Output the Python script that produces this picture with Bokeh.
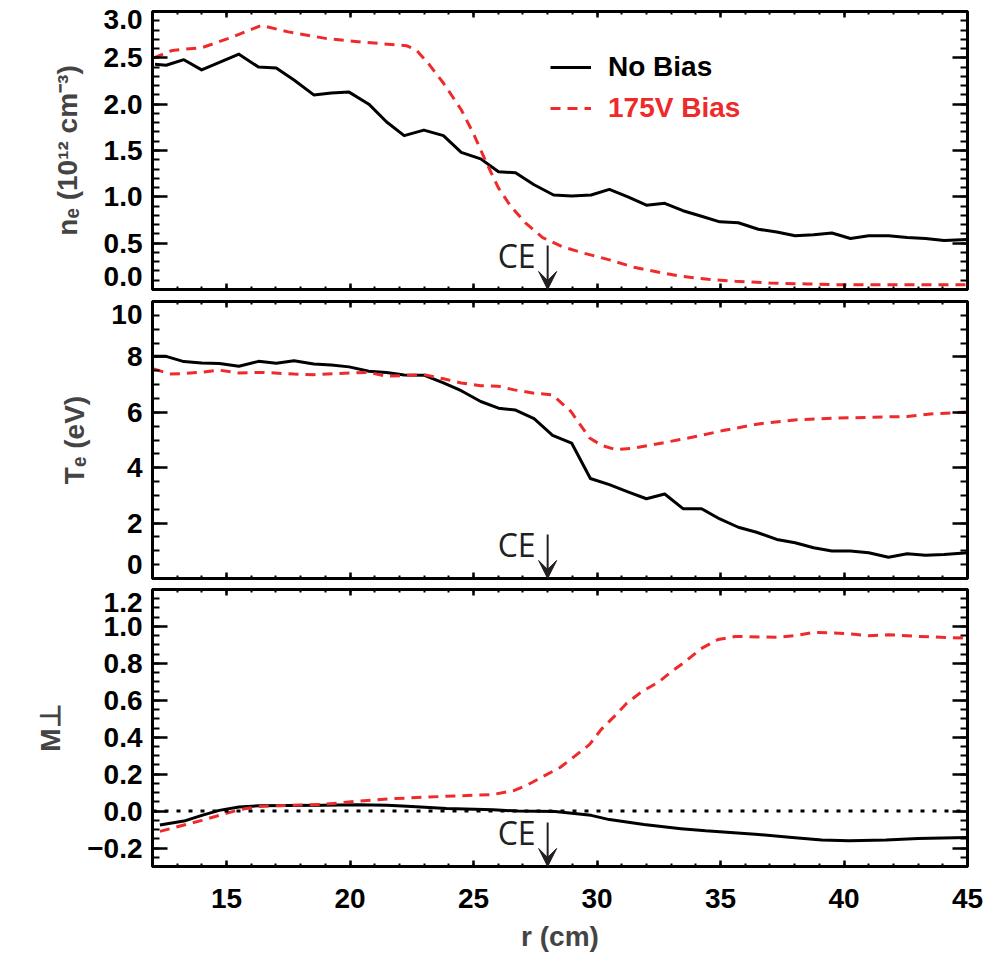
from bokeh.plotting import figure
from bokeh.models import (Range1d, LinearAxis, SingleIntervalTicker, Span, Label,
                          Arrow, VeeHead, Legend, LegendItem, CustomJSTickFormatter)
from bokeh.layouts import column
from bokeh.embed import file_html
from bokeh.resources import INLINE

# ---------------- data ----------------
ne_nobias_r = [12.1, 12.55, 13.27, 13.99, 14.71, 15.50, 16.29, 17.01, 17.73, 18.53, 19.24, 19.96,
               20.76, 21.47, 22.19, 22.99, 23.78, 24.50, 25.29, 26.01, 26.70, 27.45, 28.24, 28.97,
               29.76, 30.50, 31.25, 32.00, 32.74, 33.48, 34.23, 34.97, 35.72, 36.53, 37.28, 38.02,
               38.77, 39.51, 40.26, 41.00, 41.80, 42.56, 43.30, 44.05, 45.0]
ne_nobias = [2.43, 2.42, 2.48, 2.37, 2.45, 2.54, 2.40, 2.39, 2.26, 2.10, 2.12, 2.13,
             2.00, 1.81, 1.66, 1.72, 1.66, 1.48, 1.41, 1.27, 1.26, 1.13, 1.02, 1.01,
             1.02, 1.08, 1.00, 0.91, 0.93, 0.85, 0.79, 0.73, 0.72, 0.65, 0.62, 0.58,
             0.59, 0.61, 0.55, 0.58, 0.58, 0.56, 0.55, 0.53, 0.54]

ne_bias_r = [12.05, 12.8, 14.0, 15.2, 16.4, 17.5, 19.0, 20.5, 22.3, 22.7, 23.2, 23.8, 24.5, 25.0,
             25.5, 26.0, 26.5, 27.1, 27.8, 28.6, 29.5, 30.5, 31.5, 32.6, 33.5, 34.5, 35.6, 37.0,
             38.5, 40.0, 42.0, 43.5, 45.0]
ne_bias = [2.50, 2.58, 2.61, 2.72, 2.85, 2.78, 2.71, 2.67, 2.63, 2.58, 2.43, 2.22, 1.94, 1.68,
           1.38, 1.10, 0.90, 0.72, 0.56, 0.46, 0.39, 0.32, 0.24, 0.18, 0.14, 0.11, 0.09, 0.07,
           0.06, 0.05, 0.05, 0.05, 0.05]

te_nobias_r = [12.05, 12.55, 13.27, 13.99, 14.71, 15.50, 16.29, 17.01, 17.73, 18.53, 19.24, 19.96,
               20.76, 21.47, 22.19, 22.99, 23.78, 24.50, 25.29, 26.01, 26.70, 27.45, 28.20, 28.97,
               29.73, 30.50, 31.25, 32.00, 32.74, 33.48, 34.23, 34.97, 35.72, 36.46, 37.28, 38.02,
               38.77, 39.51, 40.26, 41.00, 41.80, 42.56, 43.30, 44.05, 45.0]
te_nobias = [8.02, 8.02, 7.83, 7.78, 7.76, 7.66, 7.84, 7.77, 7.86, 7.74, 7.71, 7.64,
             7.48, 7.44, 7.35, 7.34, 7.06, 6.78, 6.39, 6.15, 6.08, 5.77, 5.17, 4.89,
             3.61, 3.39, 3.13, 2.88, 3.05, 2.52, 2.52, 2.15, 1.85, 1.67, 1.41, 1.29,
             1.11, 0.99, 0.99, 0.93, 0.77, 0.89, 0.84, 0.87, 0.93]

te_bias_r = [12.05, 12.7, 13.27, 14.0, 14.71, 15.5, 16.5, 17.73, 18.53, 19.5, 20.76, 21.47, 22.19,
             22.99, 23.78, 24.5, 25.29, 26.0, 26.65, 27.45, 28.2, 28.94, 29.7, 30.2, 30.77, 31.5,
             32.26, 33.69, 35.1, 36.6, 38.1, 39.6, 41.1, 42.56, 43.5, 45.0]
te_bias = [7.57, 7.38, 7.40, 7.45, 7.52, 7.42, 7.44, 7.38, 7.36, 7.40, 7.44, 7.30, 7.33,
           7.36, 7.21, 7.06, 6.96, 6.94, 6.81, 6.69, 6.63, 6.03, 5.07, 4.80, 4.65, 4.71,
           4.83, 5.07, 5.34, 5.59, 5.73, 5.79, 5.82, 5.85, 5.94, 6.01]

m_nobias_r = [12.3, 13.27, 14.0, 14.7, 15.5, 16.3, 17.4, 18.9, 20.3, 21.5, 22.5, 23.9, 25.8, 26.8,
              28.3, 29.76, 30.5, 31.9, 33.4, 34.4, 36.4, 37.9, 39.1, 40.2, 41.7, 43.0, 45.0]
m_nobias = [-0.075, -0.054, -0.023, 0.004, 0.022, 0.029, 0.031, 0.032, 0.034, 0.032, 0.025, 0.014,
            0.007, 0.0, -0.002, -0.023, -0.046, -0.073, -0.095, -0.107, -0.125, -0.143, -0.157,
            -0.161, -0.157, -0.148, -0.143]

m_bias_r = [12.3, 14.0, 15.5, 16.3, 17.4, 18.9, 20.3, 21.7, 23.1, 24.5, 25.8, 26.65, 27.2, 27.86,
            28.5, 29.1, 29.7, 30.16, 30.7, 31.2, 31.8, 32.5, 33.0, 33.55, 34.2, 34.9, 35.6, 37.3,
            38.0, 38.8, 39.6, 40.3, 41.0, 41.8, 43.0, 45.0]
m_bias = [-0.11, -0.05, 0.007, 0.025, 0.031, 0.036, 0.054, 0.067, 0.076, 0.083, 0.090, 0.112,
          0.143, 0.191, 0.236, 0.298, 0.361, 0.441, 0.513, 0.584, 0.646, 0.70, 0.754, 0.807,
          0.879, 0.929, 0.946, 0.941, 0.95, 0.968, 0.964, 0.959, 0.95, 0.955, 0.946, 0.936]

series_labels = ["No Bias", "175V Bias"]
CE_R = 28.0
X_RANGE = (12, 45)
ne_range, ne_step = (0.0, 3.0), 0.5
te_range, te_step = (0.0, 10.0), 2.0
m_range, m_step = (-0.3, 1.2), 0.2

# ---------------- styling ----------------
FONT = "Liberation Sans"
FS = "28px"
RED = "#EE2A2A"
INK = "#231f20"
FRAME_W = 815


def style_axis(ax, show_labels, tick_in, minor_in):
    ax.axis_line_width = 3
    ax.axis_line_color = "black"
    ax.major_tick_in = tick_in
    ax.major_tick_out = 0
    ax.minor_tick_in = minor_in
    ax.minor_tick_out = 0
    ax.major_tick_line_width = 2.5
    ax.minor_tick_line_width = 2
    ax.major_tick_line_color = "black"
    ax.minor_tick_line_color = "black"
    if show_labels:
        ax.major_label_text_font = FONT
        ax.major_label_text_font_style = "bold"
        ax.major_label_text_font_size = FS
        ax.major_label_text_color = "black"
        ax.major_label_standoff = 10
    else:
        ax.major_label_text_color = None
        ax.major_label_text_alpha = 0
        ax.major_label_text_font_size = "1px"
        ax.major_label_standoff = 0


def make_panel(yr, ystep, yminor, decimals, frame_h, top, bottom, ylabel, xlabels):
    span = yr[1] - yr[0]
    pad = 1e-6 * span  # keeps a tick that sits exactly on the range end
    p = figure(x_range=Range1d(*X_RANGE), y_range=Range1d(yr[0] - pad, yr[1] + pad),
               frame_width=FRAME_W, frame_height=frame_h,
               min_border_left=152, min_border_right=41,
               min_border_top=top, min_border_bottom=bottom,
               output_backend="svg", toolbar_location=None)
    p.xgrid.visible = False
    p.ygrid.visible = False
    p.outline_line_color = "black"
    p.outline_line_width = 3
    p.background_fill_color = "white"
    p.border_fill_color = "white"

    xb = p.xaxis[0]
    xb.ticker = SingleIntervalTicker(interval=5, num_minor_ticks=5)
    style_axis(xb, xlabels, 6, 3)

    yl = p.yaxis[0]
    yl.ticker = SingleIntervalTicker(interval=ystep, num_minor_ticks=yminor)
    # labels at the ends of the range are nudged inward (as in the original)
    tol = 1e-3 * ystep
    code = ("const s = tick.toFixed(%d).replace('-', '\\u2212');\n"
            "if (Math.abs(tick - (%r)) < %r) return '\\n' + s;\n"
            "if (Math.abs(tick - (%r)) < %r) return s + '\\n';\n"
            "return s;") % (decimals, yr[1], tol, yr[0], tol)
    yl.formatter = CustomJSTickFormatter(code=code)
    style_axis(yl, True, 15, 7)
    yl.major_label_text_line_height = 0.1
    yl.axis_label = ylabel
    yl.axis_label_text_font = FONT
    yl.axis_label_text_font_style = "bold"
    yl.axis_label_text_font_size = FS
    yl.axis_label_standoff = 18

    ax_top = LinearAxis(ticker=SingleIntervalTicker(interval=5, num_minor_ticks=5))
    style_axis(ax_top, False, 6, 3)
    p.add_layout(ax_top, "above")
    ax_right = LinearAxis(ticker=SingleIntervalTicker(interval=ystep, num_minor_ticks=yminor))
    style_axis(ax_right, False, 15, 7)
    p.add_layout(ax_right, "right")

    # CE marker
    p.add_layout(Label(x=CE_R, y=yr[0] + 34.0 / frame_h * span, text="CE",
                       text_align="right", text_baseline="middle", x_offset=-12,
                       text_font="Open Sans", text_font_size="32px", text_color=INK))
    p.add_layout(Arrow(x_start=CE_R, y_start=yr[0] + 44.0 / frame_h * span,
                       x_end=CE_R, y_end=yr[0],
                       line_color=INK, line_width=2,
                       end=VeeHead(size=18, fill_color=INK, line_color=INK)))
    return p, xb


def add_lines(p, rb, vb, rr, vr):
    r1 = p.line(rb, vb, line_color="black", line_width=3, line_join="round")
    r2 = p.line(rr, vr, line_color=RED, line_width=3, line_dash="10 7")
    return r1, r2


def make_legend(r, label, color, loc):
    return Legend(items=[LegendItem(label=label, renderers=[r])], location=loc,
                  border_line_alpha=0, background_fill_alpha=0, padding=0, margin=0,
                  glyph_width=41, glyph_height=22, label_height=22, spacing=0,
                  label_standoff=17, label_text_font=FONT, label_text_font_style="bold",
                  label_text_font_size=FS, label_text_color=color,
                  label_text_baseline="middle")


p1, _ = make_panel(ne_range, ne_step, 5, 1, 278, 11, 6, "nₑ (10¹² cm⁻³)", False)
a1, b1 = add_lines(p1, ne_nobias_r, ne_nobias, ne_bias_r, ne_bias)
p1.add_layout(make_legend(a1, series_labels[0], "black", (398, 206)))
p1.add_layout(make_legend(b1, series_labels[1], RED, (398, 165)))

p2, _ = make_panel(te_range, te_step, 4, 0, 277, 6, 5, "Tₑ (eV)", False)
add_lines(p2, te_nobias_r, te_nobias, te_bias_r, te_bias)

p3, xb3 = make_panel(m_range, m_step, 4, 1, 277, 6, 87, "M⊥", True)
p3.add_layout(Span(location=0, dimension="width", line_color="black",
                   line_width=3, line_dash="4 8"))
add_lines(p3, m_nobias_r, m_nobias, m_bias_r, m_bias)
xb3.axis_label = "r (cm)"
xb3.axis_label_text_font = FONT
xb3.axis_label_text_font_style = "bold"
xb3.axis_label_text_font_size = FS
xb3.axis_label_standoff = 10
xb3.major_label_standoff = 22

layout = column(p1, p2, p3, spacing=0)
open("out.html", "w").write(file_html(layout, INLINE))
